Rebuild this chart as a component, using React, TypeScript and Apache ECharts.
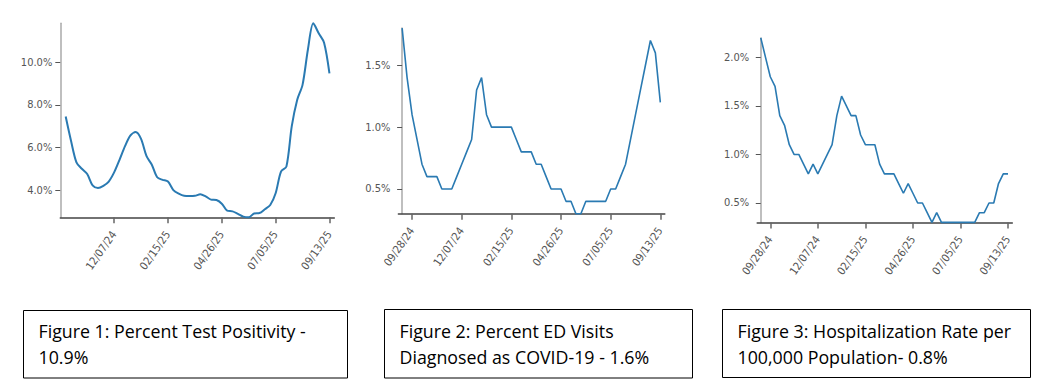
import React, { useEffect, useRef } from "react";
import * as echarts from "echarts";

// Weekly reporting dates (week ending)
const weeks = [
  "09/14/24", "09/21/24", "09/28/24", "10/05/24", "10/12/24", "10/19/24", "10/26/24",
  "11/02/24", "11/09/24", "11/16/24", "11/23/24", "11/30/24", "12/07/24", "12/14/24",
  "12/21/24", "12/28/24", "01/04/25", "01/11/25", "01/18/25", "01/25/25", "02/01/25",
  "02/08/25", "02/15/25", "02/22/25", "03/01/25", "03/08/25", "03/15/25", "03/22/25",
  "03/29/25", "04/05/25", "04/12/25", "04/19/25", "04/26/25", "05/03/25", "05/10/25",
  "05/17/25", "05/24/25", "05/31/25", "06/07/25", "06/14/25", "06/21/25", "06/28/25",
  "07/05/25", "07/12/25", "07/19/25", "07/26/25", "08/02/25", "08/09/25", "08/16/25",
  "08/23/25", "08/30/25", "09/06/25", "09/13/25",
];

// Figure 1: percent test positivity (starts 10/05/24)
const positivityStart = "10/05/24";
const positivity = [
  7.45, 6.3, 5.3, 5.0, 4.75, 4.22, 4.1, 4.2, 4.4, 4.83, 5.42, 6.05, 6.56, 6.72, 6.4,
  5.6, 5.19, 4.6, 4.48, 4.4, 4.0, 3.83, 3.73, 3.72, 3.73, 3.8, 3.7, 3.55, 3.53, 3.36,
  3.03, 3.0, 2.88, 2.75, 2.72, 2.9, 2.92, 3.1, 3.3, 3.85, 4.87, 5.1, 7.0, 8.23, 8.94,
  10.6, 11.83, 11.36, 10.92, 9.48,
];

// Figure 2: percent ED visits diagnosed as COVID-19 (starts 09/14/24)
const edStart = "09/14/24";
const edVisits = [
  1.8, 1.4, 1.1, 0.9, 0.7, 0.6, 0.6, 0.6, 0.5, 0.5, 0.5, 0.6, 0.7, 0.8, 0.9, 1.3, 1.4,
  1.1, 1.0, 1.0, 1.0, 1.0, 1.0, 0.9, 0.8, 0.8, 0.8, 0.7, 0.7, 0.6, 0.5, 0.5, 0.5, 0.4,
  0.4, 0.3, 0.3, 0.4, 0.4, 0.4, 0.4, 0.4, 0.5, 0.5, 0.6, 0.7, 0.9, 1.1, 1.3, 1.5, 1.7,
  1.6, 1.2,
];

// Figure 3: hospitalization rate per 100,000 (starts 09/14/24)
const hospStart = "09/14/24";
const hospRate = [
  2.2, 2.0, 1.8, 1.7, 1.4, 1.3, 1.1, 1.0, 1.0, 0.9, 0.8, 0.9, 0.8, 0.9, 1.0, 1.1, 1.4,
  1.6, 1.5, 1.4, 1.4, 1.2, 1.1, 1.1, 1.1, 0.9, 0.8, 0.8, 0.8, 0.7, 0.6, 0.7, 0.6, 0.5,
  0.5, 0.4, 0.3, 0.4, 0.3, 0.3, 0.3, 0.3, 0.3, 0.3, 0.3, 0.3, 0.4, 0.4, 0.5, 0.5, 0.7,
  0.8, 0.8,
];

// Tick labels
const xTicks1 = ["12/07/24", "02/15/25", "04/26/25", "07/05/25", "09/13/25"];
const xTicks23 = ["09/28/24", "12/07/24", "02/15/25", "04/26/25", "07/05/25", "09/13/25"];
const yTicks1 = [4, 6, 8, 10];
const yTicks2 = [0.5, 1.0, 1.5];
const yTicks3 = [0.5, 1.0, 1.5, 2.0];

// Captions
const captions = [
  ["Figure 1: Percent Test Positivity -", "10.9%"],
  ["Figure 2: Percent ED Visits", "Diagnosed as COVID-19 - 1.6%"],
  ["Figure 3: Hospitalization Rate per", "100,000 Population- 0.8%"],
];

const LINE = "#2a7ab2";
const TICK_FONT = "'Liberation Sans Narrow', 'DejaVu Sans Condensed', 'Liberation Sans', sans-serif";

function toSeries(start: string, values: number[]) {
  const s = weeks.indexOf(start);
  return values.map((v, k) => [s + k, v]);
}

function xAxis(grid: number, min: number, max: number, ticks: string[]) {
  const vals = ticks.map((t) => weeks.indexOf(t));
  return {
    type: "value",
    gridIndex: grid,
    min,
    max,
    splitLine: { show: false },
    axisLine: { show: true, lineStyle: { color: "#444", width: 1.5 } },
    axisTick: { show: true, customValues: vals, length: 6, lineStyle: { color: "#666", width: 1.5 } },
    axisLabel: {
      customValues: vals,
      rotate: 55,
      margin: 15,
      color: "#555",
      fontSize: 11,
      fontFamily: TICK_FONT,
      formatter: (v: number) => weeks[Math.round(v)] ?? "",
    },
  };
}

function yAxis(grid: number, min: number, max: number, ticks: number[]) {
  return {
    type: "value",
    gridIndex: grid,
    min,
    max,
    splitLine: { show: false },
    axisLine: { show: true, lineStyle: { color: "#aaa", width: 1.5 } },
    axisTick: { show: true, customValues: ticks, length: 5, lineStyle: { color: "#555", width: 1 } },
    axisLabel: {
      customValues: ticks,
      margin: 8,
      color: "#555",
      fontSize: 11,
      fontFamily: TICK_FONT,
      formatter: (v: number) => v.toFixed(1) + "%",
    },
  };
}

export default function App() {
  const ref = useRef<HTMLDivElement>(null);
  useEffect(() => {
    if (!ref.current) return;
    const chart = echarts.init(ref.current, null, { renderer: "svg" });

    const boxes = [
      { x: 23.5, y: 310.5, w: 324, h: 67.5 },
      { x: 384.5, y: 309.5, w: 308, h: 68.5 },
      { x: 722.5, y: 309.5, w: 308, h: 68 },
    ];
    const graphic: any[] = [];
    boxes.forEach((b, i) => {
      graphic.push({
        type: "rect",
        shape: { x: b.x, y: b.y, width: b.w, height: b.h },
        style: { fill: "#fff", stroke: "#000", lineWidth: 1 },
      });
      captions[i].forEach((line, j) => {
        graphic.push({
          type: "text",
          x: b.x + 15,
          y: 330.5 + j * 26.6,
          style: {
            text: line,
            fill: "#000",
            font: "17.8px 'Open Sans', Lato, sans-serif",
            verticalAlign: "middle",
            align: "left",
          },
        });
      });
    });

    chart.setOption({
      animation: false,
      backgroundColor: "#fff",
      grid: [
        { left: 60.3, top: 23.3, width: 274, height: 194 },
        { left: 398.4, top: 28.1, width: 266.4, height: 185.6 },
        { left: 757.2, top: 37.9, width: 255.1, height: 184.5 },
      ],
      xAxis: [
        xAxis(0, 2, 52.9, xTicks1),
        xAxis(1, -0.75, 52.9, xTicks23),
        xAxis(2, -0.75, 52.9, xTicks23),
      ],
      yAxis: [
        yAxis(0, 2.72, 11.83, yTicks1),
        yAxis(1, 0.3, 1.8, yTicks2),
        yAxis(2, 0.3, 2.2, yTicks3),
      ],
      series: [
        {
          type: "line",
          xAxisIndex: 0,
          yAxisIndex: 0,
          data: toSeries(positivityStart, positivity),
          showSymbol: false,
          smooth: 0.3,
          clip: false,
          lineStyle: { color: LINE, width: 2 },
        },
        {
          type: "line",
          xAxisIndex: 1,
          yAxisIndex: 1,
          data: toSeries(edStart, edVisits),
          showSymbol: false,
          clip: false,
          lineStyle: { color: LINE, width: 1.6 },
        },
        {
          type: "line",
          xAxisIndex: 2,
          yAxisIndex: 2,
          data: toSeries(hospStart, hospRate),
          showSymbol: false,
          clip: false,
          lineStyle: { color: LINE, width: 1.6 },
        },
      ],
      graphic,
    });
    return () => chart.dispose();
  }, []);

  return (
    <div
      ref={ref}
      style={{ position: "absolute", left: 0, top: 0, width: 1045, height: 392, background: "#fff" }}
    />
  );
}
